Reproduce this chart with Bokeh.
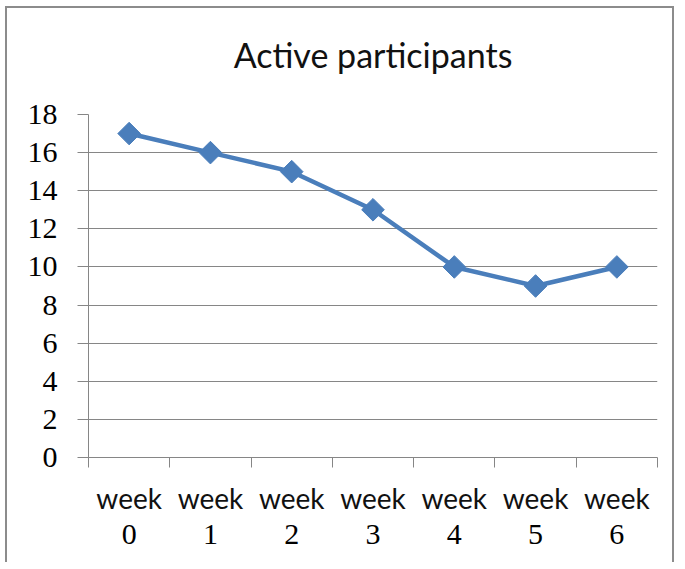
import math
from bokeh.plotting import figure
from bokeh.models import Range1d, FixedTicker, LinearAxis, Title
from bokeh.embed import file_html
from bokeh.resources import INLINE

# ---- data ----
week_words = ["week", "week", "week", "week", "week", "week", "week"]
week_numbers = ["0", "1", "2", "3", "4", "5", "6"]
participants = [17, 16, 15, 13, 10, 9, 10]
y_ticks = [0, 2, 4, 6, 8, 10, 12, 14, 16, 18]

n = len(week_numbers)
centers = [i + 0.5 for i in range(n)]
bounds = [i for i in range(n + 1)]

GRAY = "#868686"
BLUE = "#4a7ebb"

p = figure(width=669, height=556, output_backend="svg", toolbar_location=None,
           x_range=Range1d(0, n), y_range=Range1d(0, 18),
           x_axis_location=None, y_axis_location=None,
           min_border_left=81, min_border_right=19, min_border_top=106,
           min_border_bottom=107,
           styles={"margin-left": "5px", "margin-top": "6px",
                   "border-left": "2px solid #8c8c8c",
                   "border-top": "2px solid #8c8c8c",
                   "border-right": "2px solid #8c8c8c"})
p.outline_line_color = None
p.background_fill_color = "white"
p.border_fill_color = "white"

# spacer between frame and title (closest to the frame)
spacer = Title(text=" ", text_font_size="1px", standoff=37)
p.add_layout(spacer, "above")

title = Title(text="Active participants", align="center",
              text_font="Lato", text_font_size="34px", text_font_style="normal",
              text_color="#111111", standoff=0)
p.add_layout(title, "above")

# y axis
yax = LinearAxis(ticker=FixedTicker(ticks=y_ticks))
yax.axis_line_color = GRAY
yax.major_tick_line_color = GRAY
yax.major_tick_out = 11
yax.major_tick_in = 0
yax.minor_tick_line_color = None
yax.major_label_standoff = 20
yax.major_label_text_font = "Liberation Serif"
yax.major_label_text_font_size = "30px"
yax.major_label_text_color = "#000000"
p.add_layout(yax, "left")

# x axis: boundary ticks + "week" words
xax = LinearAxis(ticker=FixedTicker(ticks=centers, minor_ticks=bounds))
xax.axis_line_color = GRAY
xax.major_tick_line_color = None
xax.major_tick_out = 0
xax.major_tick_in = 0
xax.minor_tick_line_color = GRAY
xax.minor_tick_out = 10
xax.minor_tick_in = 0
xax.major_label_overrides = {c: w for c, w in zip(centers, week_words)}
xax.major_label_standoff = 13
xax.major_label_text_font = "Lato"
xax.major_label_text_font_size = "28px"
xax.major_label_text_color = "#111111"
p.add_layout(xax, "below")

# second row of x labels: week numbers
xax2 = LinearAxis(ticker=FixedTicker(ticks=centers))
xax2.axis_line_color = None
xax2.major_tick_line_color = None
xax2.minor_tick_line_color = None
xax2.major_tick_out = 0
xax2.major_tick_in = 0
xax2.major_label_overrides = {c: s for c, s in zip(centers, week_numbers)}
xax2.major_label_standoff = 7
xax2.major_label_text_font = "Liberation Serif"
xax2.major_label_text_font_size = "30px"
xax2.major_label_text_color = "#000000"
p.add_layout(xax2, "below")

p.xgrid.visible = False
p.ygrid.ticker = FixedTicker(ticks=y_ticks)
p.ygrid.grid_line_color = GRAY
p.ygrid.grid_line_width = 1

p.line(centers, participants, line_color=BLUE, line_width=4.5)
p.scatter(centers, participants, marker="square", size=16, angle=math.pi / 4,
          fill_color=BLUE, line_color=BLUE)

open("out.html", "w").write(file_html(p, INLINE))
